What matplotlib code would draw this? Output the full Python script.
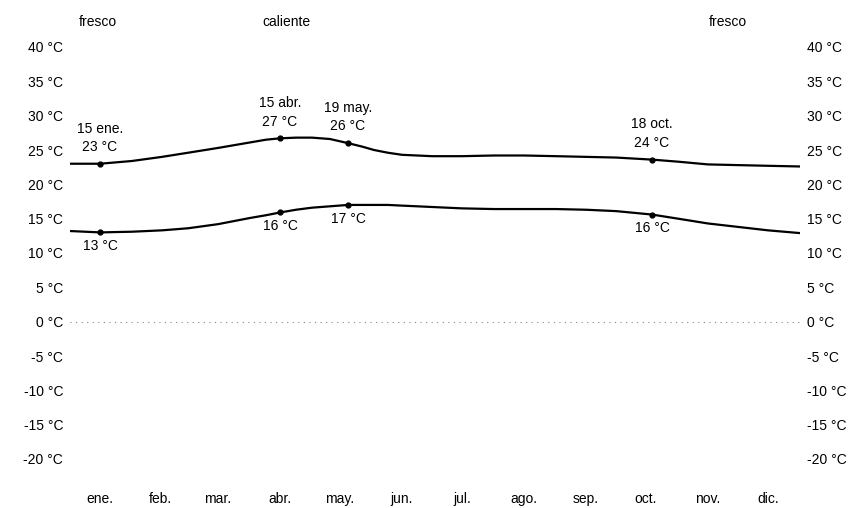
import matplotlib
matplotlib.use("Agg")
import matplotlib.pyplot as plt
import matplotlib.transforms as mtransforms

plt.rcParams["font.family"] = ["Liberation Sans", "DejaVu Sans"]

# =========================================================
# Data
# =========================================================

days = [0, 15, 31, 46, 59, 74, 90, 98, 105, 113, 121, 130, 139, 146, 152,
        159, 166, 181, 196, 212, 227, 243, 258, 273, 291, 304, 319, 334,
        349, 365]

temp_high = [23.0, 23.0, 23.4, 24.0, 24.6, 25.3, 26.1, 26.5, 26.7, 26.8,
             26.8, 26.6, 26.0, 25.5, 25.0, 24.6, 24.3, 24.1, 24.1, 24.2,
             24.2, 24.1, 24.0, 23.9, 23.6, 23.3, 22.9, 22.8, 22.7, 22.6]

temp_low = [13.2, 13.0, 13.1, 13.3, 13.6, 14.2, 15.1, 15.5, 15.9, 16.3,
            16.6, 16.8, 17.0, 17.0, 17.0, 17.0, 16.9, 16.7, 16.5, 16.4,
            16.4, 16.4, 16.3, 16.1, 15.6, 15.0, 14.3, 13.8, 13.3, 12.9]

marker_days = [15, 105, 139, 291]
marker_names = ["15 ene.", "15 abr.", "19 may.", "18 oct."]

month_days = [15, 45, 74, 105, 135, 166, 196, 227, 258, 288, 319, 349]
month_labels = ["ene.", "feb.", "mar.", "abr.", "may.", "jun.",
                "jul.", "ago.", "sep.", "oct.", "nov.", "dic."]

y_ticks = [40, 35, 30, 25, 20, 15, 10, 5, 0, -5, -10, -15, -20]

season_days = [14, 108, 329]
season_names = ["fresco", "caliente", "fresco"]

# =========================================================
# Plot
# =========================================================

fig = plt.figure(figsize=(8.65, 5.08), dpi=100)
ax = fig.add_axes([70 / 865, 1 - 459 / 508, 730 / 865, 412 / 508])

ax.axhline(0, color="#888888", linestyle=(0, (1, 4)), linewidth=0.8)

ax.plot(days, temp_high, color="black", linewidth=1.6)
ax.plot(days, temp_low, color="black", linewidth=1.6)

for d, name in zip(marker_days, marker_names):
    i = days.index(d)
    hi = temp_high[i]
    lo = temp_low[i]
    ax.plot([d, d], [hi, lo], "o", color="black", markersize=3.5, linestyle="none")
    ax.annotate(f"{name}\n{round(hi)} °C", (d, hi), xytext=(0, 7),
                textcoords="offset points", ha="center", va="bottom",
                fontsize=10, linespacing=1.4)
    ax.annotate(f"{round(lo)} °C", (d, lo), xytext=(0, -5),
                textcoords="offset points", ha="center", va="top", fontsize=10)

trans = mtransforms.blended_transform_factory(ax.transData, fig.transFigure)
for d, name in zip(season_days, season_names):
    ax.text(d, 1 - 22 / 508, name, transform=trans, ha="center", va="center",
            fontsize=10)

ax.set_xlim(0, 365)
ax.set_ylim(-20, 40)
ax.set_xticks(month_days)
ax.set_xticklabels(month_labels)
ax.set_yticks(y_ticks)
ax.set_yticklabels([f"{t} °C" for t in y_ticks])

ax.tick_params(axis="both", length=0, labelsize=10)
ax.tick_params(axis="x", pad=24)
ax.tick_params(axis="y", pad=5, labelleft=True, labelright=True)

for side in ["top", "bottom", "left", "right"]:
    ax.spines[side].set_visible(False)

fig.savefig("out.png", dpi=100)
